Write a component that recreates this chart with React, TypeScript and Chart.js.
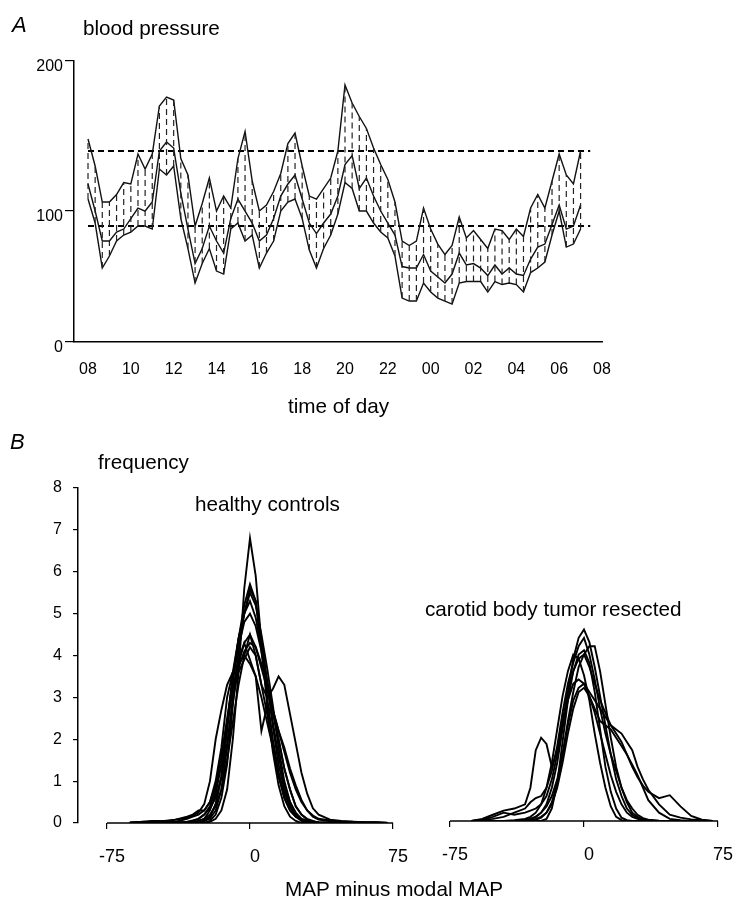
import React, { useEffect, useRef } from "react";
import { Chart, registerables } from "chart.js";

Chart.register(...registerables);

const FONT = "'Liberation Sans', Arial, Helvetica, sans-serif";

// ---------------- Panel A: 24-h blood pressure ----------------
const SAMPLE_MINUTES = 20; // one reading every 20 minutes, starting 08:00
const upperBP = [148, 130, 106, 106, 111, 119, 118, 138, 128, 138, 170, 176, 174, 135, 124, 90, 105, 122, 100, 110, 102, 135, 153, 120, 100, 104, 113, 125, 145, 152, 130, 110, 108, 115, 122, 140, 184, 172, 163, 155, 142, 131, 121, 106, 80, 77, 80, 102, 88, 78, 71, 77, 96, 82, 87, 81, 75, 88, 87, 81, 88, 83, 102, 111, 102, 120, 138, 124, 118, 140];
const middleBP = [118, 100, 80, 80, 86, 88, 95, 102, 100, 106, 140, 146, 142, 112, 88, 65, 75, 90, 80, 72, 95, 108, 100, 92, 80, 84, 95, 110, 118, 124, 108, 92, 85, 92, 98, 110, 131, 137, 115, 122, 110, 100, 92, 84, 63, 62, 62, 71, 60, 56, 52, 58, 72, 64, 65, 62, 57, 64, 58, 62, 58, 57, 68, 76, 78, 91, 104, 88, 90, 104];
const lowerBP = [108, 92, 62, 70, 80, 84, 86, 90, 90, 88, 128, 124, 130, 95, 75, 52, 65, 75, 60, 58, 88, 92, 80, 84, 62, 72, 80, 100, 106, 108, 95, 74, 62, 75, 84, 98, 119, 115, 100, 100, 92, 86, 82, 70, 42, 40, 40, 52, 46, 42, 40, 38, 52, 53, 53, 53, 46, 53, 51, 52, 51, 46, 59, 62, 66, 84, 100, 76, 78, 88];
const refLevels = [140, 90];
const refSpanHours = [0, 23.45];
const timeTickHours = [0, 2, 4, 6, 8, 10, 12, 14, 16, 18, 20, 22, 24];
const timeTickLabels = ["08", "10", "12", "14", "16", "18", "20", "22", "00", "02", "04", "06", "08"];
const bpAxisFloor = 12.7; // drawn bottom of the axis, labelled "0" in the original
const bpTickValues = [bpAxisFloor, 100, 200];

// ---------------- Panel B: MAP distributions ----------------
const mapBins = [-63, -57, -51, -45, -39, -33, -30, -27, -24, -21, -18, -15, -12, -9, -6, -3, 0, 3, 6, 9, 12, 15, 18, 21, 24, 27, 30, 33, 36, 42, 48, 54, 60, 66, 72];
const mapTicks = [-75, 0, 75];
const freqTicksMax = 8;

const healthy1 = [0, 0, 0, 0, 0, 0, 0, 0, 0, 0.03, 0.1, 0.3, 0.8, 2.0, 3.6, 5.6, 6.8, 5.9, 4.3, 2.8, 1.7, 0.9, 0.4, 0.15, 0.05, 0, 0, 0, 0, 0, 0, 0, 0, 0, 0];
const healthy2 = [0, 0.02, 0, 0.05, 0.03, 0.1, 0.15, 0.2, 0.3, 0.5, 0.9, 1.6, 2.5, 3.4, 4.4, 5.2, 5.7, 5.3, 4.1, 3.0, 2.0, 1.2, 0.6, 0.3, 0.15, 0.08, 0.05, 0.03, 0.02, 0.01, 0, 0, 0, 0, 0];
const healthy3 = [0, 0, 0, 0, 0, 0, 0, 0, 0.05, 0.15, 0.45, 1.1, 2.2, 3.5, 4.4, 5.0, 5.5, 5.2, 4.5, 3.7, 2.8, 1.8, 1.0, 0.5, 0.2, 0.08, 0.03, 0, 0, 0, 0, 0, 0, 0, 0];
const healthy4 = [0, 0, 0.05, 0.03, 0.08, 0.12, 0.18, 0.25, 0.45, 1.0, 2.0, 2.7, 3.3, 3.6, 3.6, 3.9, 4.2, 4.0, 3.3, 2.6, 1.8, 1.1, 0.6, 0.3, 0.15, 0.08, 0.05, 0.02, 0, 0, 0, 0, 0, 0, 0];
const healthy5 = [0, 0, 0, 0, 0, 0, 0, 0.05, 0.1, 0.2, 0.4, 0.8, 1.5, 2.4, 3.3, 4.0, 4.5, 4.0, 3.3, 3.0, 3.2, 3.5, 3.3, 2.6, 1.9, 1.2, 0.7, 0.35, 0.2, 0.08, 0.05, 0.03, 0.02, 0.02, 0];
const healthy6 = [0, 0, 0, 0, 0, 0, 0, 0, 0.05, 0.1, 0.3, 0.8, 1.8, 3.0, 3.8, 4.3, 3.9, 3.5, 2.2, 2.8, 2.6, 2.0, 1.3, 0.8, 0.4, 0.2, 0.1, 0.05, 0, 0, 0, 0, 0, 0, 0];
const healthy7 = [0, 0, 0, 0, 0.02, 0.02, 0.02, 0.05, 0.1, 0.3, 0.7, 1.4, 2.4, 3.4, 4.2, 4.8, 5.0, 4.7, 4.1, 3.4, 2.7, 2.0, 1.3, 0.8, 0.4, 0.2, 0.08, 0.03, 0, 0, 0, 0, 0, 0, 0];
const healthy8 = [0, 0, 0, 0, 0, 0.02, 0.05, 0.1, 0.2, 0.35, 0.6, 1.1, 1.9, 2.9, 3.7, 4.1, 4.3, 4.2, 3.8, 3.3, 2.7, 2.2, 1.8, 1.3, 0.9, 0.55, 0.3, 0.15, 0.08, 0.04, 0.03, 0.02, 0.01, 0.01, 0];
const healthy9 = [0, 0, 0, 0, 0, 0, 0, 0, 0.05, 0.15, 0.45, 1.1, 2.3, 3.6, 4.4, 5.0, 5.3, 4.9, 4.2, 3.3, 2.4, 1.6, 0.9, 0.5, 0.25, 0.1, 0.04, 0, 0, 0, 0, 0, 0, 0, 0];
const healthy10 = [0.02, 0.03, 0.05, 0.05, 0.08, 0.15, 0.2, 0.3, 0.3, 0.5, 1.0, 1.8, 3.0, 3.6, 3.8, 4.0, 3.8, 3.5, 3.0, 2.4, 1.8, 1.2, 0.7, 0.4, 0.2, 0.1, 0.06, 0.04, 0.02, 0.01, 0, 0, 0, 0, 0];
const healthy11 = [0, 0, 0, 0, 0, 0, 0, 0, 0, 0.05, 0.2, 0.6, 1.4, 2.8, 4.1, 5.0, 5.6, 5.3, 4.4, 3.4, 2.3, 1.4, 0.8, 0.4, 0.15, 0.05, 0, 0, 0, 0, 0, 0, 0, 0, 0];
const healthy12 = [0, 0, 0, 0, 0, 0.03, 0.06, 0.1, 0.2, 0.4, 0.8, 1.4, 2.3, 3.2, 3.9, 4.3, 4.5, 4.2, 3.7, 3.2, 2.7, 2.2, 1.7, 1.2, 0.8, 0.5, 0.3, 0.18, 0.1, 0.06, 0.04, 0.03, 0.02, 0.02, 0.01];
const healthyCurves = [healthy1, healthy2, healthy3, healthy4, healthy5, healthy6, healthy7, healthy8, healthy9, healthy10, healthy11, healthy12];

const carotid1 = [0, 0, 0, 0, 0, 0.02, 0.05, 0.1, 0.2, 0.4, 0.8, 1.4, 2.2, 3.1, 3.9, 4.4, 4.6, 4.3, 3.7, 3.0, 2.3, 1.6, 1.0, 0.6, 0.3, 0.15, 0.07, 0.03, 0.01, 0, 0, 0, 0, 0, 0];
const carotid2 = [0, 0, 0, 0, 0, 0, 0, 0.03, 0.08, 0.2, 0.45, 0.9, 1.6, 2.4, 3.1, 3.7, 4.0, 4.2, 4.2, 3.6, 2.8, 2.0, 1.3, 0.8, 0.45, 0.2, 0.1, 0.04, 0.02, 0, 0, 0, 0, 0, 0];
const carotid3 = [0, 0, 0, 0, 0.02, 0.05, 0.1, 0.2, 0.4, 0.8, 1.4, 2.2, 3.0, 3.6, 4.0, 3.9, 3.5, 2.9, 2.1, 1.4, 0.8, 0.35, 0.1, 0.02, 0, 0, 0, 0, 0, 0, 0, 0, 0, 0, 0];
const carotid4 = [0, 0.05, 0.15, 0.25, 0.3, 0.4, 0.8, 1.7, 2.0, 1.85, 1.3, 1.7, 2.3, 2.9, 3.3, 3.4, 3.3, 3.0, 2.6, 2.1, 1.6, 1.1, 0.7, 0.4, 0.2, 0.1, 0.05, 0.02, 0, 0, 0, 0, 0, 0, 0];
const carotid5 = [0, 0, 0, 0, 0, 0.02, 0.05, 0.1, 0.2, 0.35, 0.6, 1.0, 1.6, 2.3, 2.9, 3.2, 3.3, 3.1, 2.9, 2.7, 2.5, 2.3, 2.2, 2.1, 1.9, 1.7, 1.3, 1.0, 0.75, 0.4, 0.15, 0.08, 0.04, 0.02, 0];
const carotid6 = [0, 0.03, 0.1, 0.2, 0.15, 0.2, 0.25, 0.3, 0.4, 0.6, 1.0, 1.6, 2.4, 3.1, 3.6, 3.9, 4.0, 3.7, 3.3, 2.9, 2.6, 2.3, 2.1, 1.9, 1.6, 1.3, 1.05, 0.85, 0.7, 0.55, 0.62, 0.35, 0.12, 0.03, 0];
const carotid7 = [0, 0, 0, 0, 0, 0, 0, 0, 0, 0.05, 0.3, 0.9, 1.9, 2.9, 3.6, 4.0, 4.1, 3.8, 3.1, 2.2, 1.3, 0.7, 0.3, 0.08, 0.02, 0, 0, 0, 0, 0, 0, 0, 0, 0, 0];
const carotid8 = [0, 0.02, 0.05, 0.1, 0.2, 0.3, 0.45, 0.55, 0.6, 0.8, 1.2, 1.8, 2.6, 3.3, 3.8, 4.2, 4.4, 4.0, 3.4, 2.7, 2.1, 1.6, 1.2, 0.8, 0.5, 0.3, 0.15, 0.07, 0.03, 0.01, 0, 0, 0, 0, 0];
const carotid9 = [0, 0, 0, 0, 0, 0, 0.02, 0.05, 0.1, 0.2, 0.4, 0.8, 1.4, 2.1, 2.7, 3.1, 3.2, 3.0, 2.7, 2.4, 2.3, 2.2, 2.0, 1.8, 1.6, 1.35, 1.1, 0.8, 0.5, 0.2, 0.05, 0.02, 0, 0, 0];
const carotidCurves = [carotid1, carotid2, carotid3, carotid4, carotid5, carotid6, carotid7, carotid8, carotid9];

// ---------------------------------------------------------------
function PanelA() {
  const ref = useRef<HTMLCanvasElement>(null);
  useEffect(() => {
    const hours = upperBP.map((_, i) => (i * SAMPLE_MINUTES) / 60);
    const pts = (arr: number[]) => arr.map((y, i) => ({ x: hours[i], y }));
    const ranges: any[] = [];
    hours.forEach((h, i) => {
      ranges.push({ x: h, y: lowerBP[i] }, { x: h, y: upperBP[i] }, { x: h, y: null });
    });
    const solid = { borderColor: "#111", borderWidth: 1.4, pointRadius: 0, tension: 0, fill: false };
    const chart = new Chart(ref.current!, {
      type: "line",
      data: {
        datasets: [
          { data: ranges, borderColor: "#222", borderWidth: 1.2, borderDash: [6, 4], pointRadius: 0, spanGaps: false, tension: 0 },
          { data: pts(upperBP), ...solid },
          { data: pts(middleBP), ...solid },
          { data: pts(lowerBP), ...solid },
          ...refLevels.map((v) => ({
            data: refSpanHours.map((h) => ({ x: h, y: v })),
            borderColor: "#000",
            borderWidth: 2,
            borderDash: [6, 4],
            pointRadius: 0,
          })),
        ] as any,
      },
      options: {
        animation: false,
        responsive: false,
        devicePixelRatio: 1,
        layout: { padding: { top: 61, right: 143, left: 0, bottom: 0 } },
        plugins: { legend: { display: false }, tooltip: { enabled: false } },
        scales: {
          x: {
            type: "linear",
            min: -0.654,
            max: 24,
            afterBuildTicks: (s: any) => {
              s.ticks = timeTickHours.map((v) => ({ value: v }));
            },
            ticks: {
              callback: (v: any) => timeTickLabels[timeTickHours.indexOf(Number(v))] ?? "",
              font: { family: FONT, size: 16 },
              color: "#000",
              padding: 18,
              maxRotation: 0,
              autoSkip: false,
            },
            grid: { display: false, drawTicks: false },
            border: { color: "#000", width: 1.5 },
            afterFit: (s: any) => {
              s.height = 98;
            },
          },
          y: {
            type: "linear",
            min: bpAxisFloor,
            max: 200,
            afterBuildTicks: (s: any) => {
              s.ticks = bpTickValues.map((v) => ({ value: v }));
            },
            ticks: {
              callback: (v: any) => (Number(v) === bpAxisFloor ? "0" : String(v)),
              font: { family: FONT, size: 16 },
              color: "#000",
              padding: 2,
              labelOffset: 6,
              autoSkip: false,
            },
            grid: { drawOnChartArea: false, drawTicks: true, tickLength: 9, color: "#000", lineWidth: 1.2 },
            border: { color: "#000", width: 1.5 },
            afterFit: (s: any) => {
              s.width = 74;
            },
          },
        },
      } as any,
    });
    return () => chart.destroy();
  }, []);
  return <canvas ref={ref} width={745} height={440} style={{ position: "absolute", left: 0, top: 0 }} />;
}

const baselinePlugin = {
  id: "mapBaseline",
  beforeDatasetsDraw(chart: any) {
    const { ctx, scales } = chart;
    const x = scales.x;
    const y = scales.y;
    const py = y.getPixelForValue(0);
    ctx.save();
    ctx.strokeStyle = "#000";
    ctx.lineWidth = 1.5;
    ctx.beginPath();
    ctx.moveTo(x.getPixelForValue(mapTicks[0]), py);
    ctx.lineTo(x.getPixelForValue(mapTicks[mapTicks.length - 1]), py);
    ctx.stroke();
    ctx.restore();
  },
};

function HistPanel(props: {
  curves: number[][];
  left: number;
  width: number;
  xMin: number;
  padLeft: number;
  padRight: number;
  xAxisHeight: number;
  showY: boolean;
}) {
  const ref = useRef<HTMLCanvasElement>(null);
  useEffect(() => {
    const yScale: any = {
      type: "linear",
      display: props.showY,
      min: 0,
      max: freqTicksMax,
      ticks: { stepSize: 1, font: { family: FONT, size: 16 }, color: "#000", padding: 11 },
      grid: { drawOnChartArea: false, drawTicks: true, tickLength: 5, color: "#000", lineWidth: 1.2 },
      border: { color: "#000", width: 1.5 },
    };
    if (props.showY) {
      yScale.afterFit = (s: any) => {
        s.width = 78;
      };
    }
    const chart = new Chart(ref.current!, {
      type: "line",
      data: {
        datasets: props.curves.map((c) => ({
          data: c.map((y, i) => ({ x: mapBins[i], y })),
          borderColor: "#000",
          borderWidth: 1.9,
          pointRadius: 0,
          tension: 0,
          fill: false,
        })),
      },
      options: {
        animation: false,
        responsive: false,
        devicePixelRatio: 1,
        layout: { padding: { top: 28, right: props.padRight, left: props.padLeft, bottom: 0 } },
        plugins: { legend: { display: false }, tooltip: { enabled: false } },
        scales: {
          x: {
            type: "linear",
            min: props.xMin,
            max: 75,
            afterBuildTicks: (s: any) => {
              s.ticks = mapTicks.map((v) => ({ value: v }));
            },
            ticks: {
              font: { family: FONT, size: 18 },
              color: "#000",
              padding: 17,
              labelOffset: 5,
              maxRotation: 0,
              autoSkip: false,
            },
            grid: { drawOnChartArea: false, drawTicks: true, tickLength: 6, color: "#000", lineWidth: 1.2 },
            border: { display: false },
            afterFit: (s: any) => {
              s.height = props.xAxisHeight;
            },
          },
          y: yScale,
        },
      } as any,
      plugins: [baselinePlugin],
    });
    return () => chart.destroy();
  }, []);
  return (
    <canvas
      ref={ref}
      width={props.width}
      height={430}
      style={{ position: "absolute", left: props.left, top: 460 }}
    />
  );
}

function Label(props: { text: string; left: number; baseline: number; size?: number; italic?: boolean }) {
  const size = props.size ?? 20.7;
  return (
    <div
      style={{
        position: "absolute",
        left: props.left,
        top: props.baseline - 0.8465 * size,
        fontFamily: FONT,
        fontSize: size,
        lineHeight: 1,
        fontStyle: props.italic ? "italic" : "normal",
        color: "#000",
        whiteSpace: "nowrap",
      }}
    >
      {props.text}
    </div>
  );
}

export default function App() {
  return (
    <div style={{ position: "absolute", left: 0, top: 0, width: 745, height: 900, background: "#fff", overflow: "hidden" }}>
      <PanelA />
      <HistPanel curves={healthyCurves} left={0} width={420} xMin={-90.2} padLeft={0} padRight={27} xAxisHeight={67} showY={true} />
      <HistPanel curves={carotidCurves} left={420} width={325} xMin={-75} padLeft={22} padRight={14} xAxisHeight={69} showY={false} />
      <Label text="A" left={12} baseline={33} size={22} italic />
      <Label text="blood pressure" left={83} baseline={36} />
      <Label text="time of day" left={288} baseline={414} />
      <Label text="B" left={10} baseline={450} size={22} italic />
      <Label text="frequency" left={98} baseline={470} />
      <Label text="healthy controls" left={195} baseline={512} />
      <Label text="carotid body tumor resected" left={425} baseline={617} />
      <Label text="MAP minus modal MAP" left={285} baseline={897} />
    </div>
  );
}
